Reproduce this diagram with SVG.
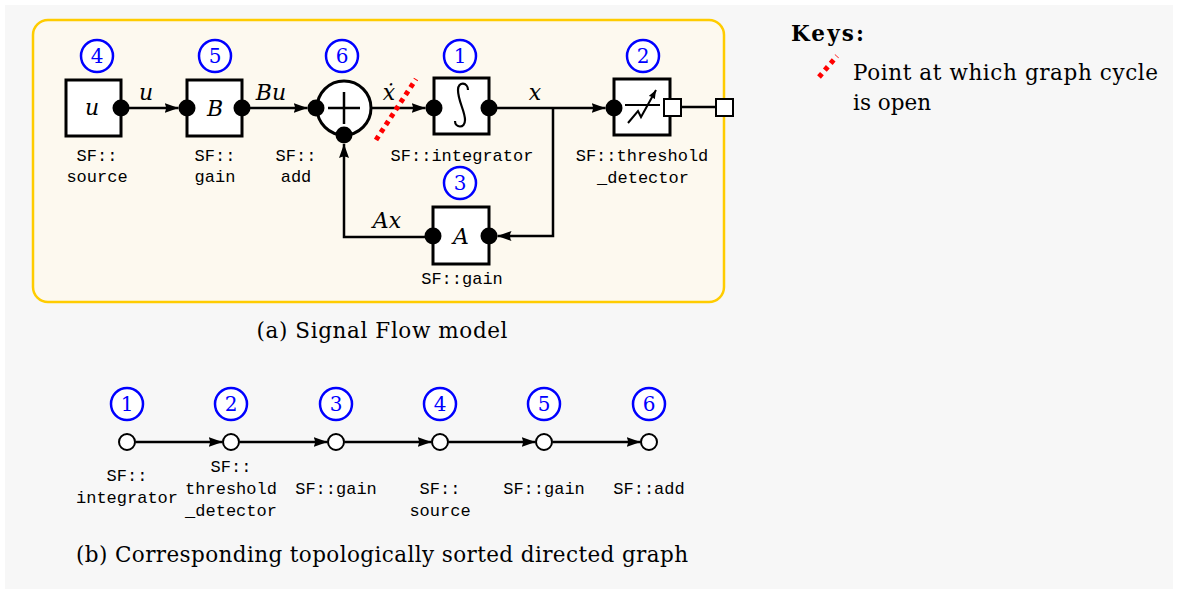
<svg xmlns="http://www.w3.org/2000/svg" width="1178" height="594" viewBox="0 0 1178 594">
<defs>
<marker id="arr" viewBox="0 0 14 10" refX="14" refY="5" markerWidth="14" markerHeight="10" markerUnits="userSpaceOnUse" orient="auto">
<path d="M0,0 L14,5 L0,10 Q3,5 0,0 Z" fill="#000"/>
</marker>
<marker id="arrs" viewBox="0 0 10 8" refX="10" refY="4" markerWidth="9" markerHeight="7" markerUnits="userSpaceOnUse" orient="auto">
<path d="M0,0 L10,4 L0,8 Q2,4 0,0 Z" fill="#000"/>
</marker>
<style>
.box{fill:#fff;stroke:#000;stroke-width:3}
.port{fill:#000}
.conn{fill:none;stroke:#000;stroke-width:2.5}
.arrow{marker-end:url(#arr)}
.num{fill:#fff;stroke:#0000ff;stroke-width:2.5}
.numt{font-family:"DejaVu Serif",serif;font-size:20px;fill:#0000ff;text-anchor:middle}
.tt{font-family:"Liberation Mono","DejaVu Sans Mono",monospace;font-size:17px;fill:#000;text-anchor:middle}
.math{font-family:"DejaVu Serif",serif;font-style:italic;font-size:22px;fill:#000;text-anchor:middle}
.rm{font-family:"DejaVu Serif",serif;font-size:21.5px;fill:#000}
.cut{fill:none;stroke:#ff0000;stroke-width:5;stroke-dasharray:4.5 4.5}
.gnode{fill:#fff;stroke:#000;stroke-width:2}
</style>
</defs>
<rect x="0" y="0" width="1178" height="594" fill="#fff"/>
<rect x="5" y="5" width="1168" height="584" fill="#f7f7f7"/>
<rect x="33" y="20" width="691" height="282" rx="15" fill="#fdf9ef" stroke="#ffcc00" stroke-width="2.5"/>

<g id="connectors">
<line class="conn arrow" x1="121" y1="108" x2="178.5" y2="108"/>
<line class="conn arrow" x1="242" y1="108" x2="307.5" y2="108"/>
<line class="conn arrow" x1="371" y1="108" x2="425.5" y2="108"/>
<line class="conn arrow" x1="489" y1="108" x2="605.5" y2="108"/>
<polyline class="conn arrow" points="553,108 553,236 497.5,236"/>
<polyline class="conn arrow" points="433,237 344,237 344,144"/>
<line class="conn" x1="681" y1="107" x2="716" y2="107"/>
<line class="conn arrow" x1="135.5" y1="442" x2="222.5" y2="442"/>
<line class="conn arrow" x1="239.5" y1="442" x2="327.5" y2="442"/>
<line class="conn arrow" x1="344.5" y1="442" x2="431.5" y2="442"/>
<line class="conn arrow" x1="448.5" y1="442" x2="535.5" y2="442"/>
<line class="conn arrow" x1="552.5" y1="442" x2="640.5" y2="442"/>
<text class="math" x="146" y="100">u</text>
<text class="math" x="271" y="100">Bu</text>
<text class="math" x="389" y="100">ẋ</text>
<text class="math" x="535" y="100">x</text>
<text class="math" x="387" y="228">Ax</text>
</g>

<g id="node4">
<circle class="num" cx="97" cy="56" r="16"/>
<text class="numt" x="97" y="63">4</text>
<rect class="box" x="66" y="80" width="55" height="56"/>
<text class="math" x="92" y="115">u</text>
<circle class="port" cx="121" cy="108" r="8.5"/>
<text class="tt" x="97" y="161">SF::</text>
<text class="tt" x="97" y="182">source</text>
</g>

<g id="node5">
<circle class="num" cx="215" cy="56" r="16"/>
<text class="numt" x="215" y="63">5</text>
<rect class="box" x="187" y="80" width="55" height="56"/>
<text class="math" x="215" y="116">B</text>
<circle class="port" cx="187" cy="108" r="8.5"/>
<circle class="port" cx="242" cy="108" r="8.5"/>
<text class="tt" x="215" y="161">SF::</text>
<text class="tt" x="215" y="182">gain</text>
</g>

<g id="node6">
<circle class="num" cx="342" cy="56" r="16"/>
<text class="numt" x="342" y="63">6</text>
<circle cx="344" cy="108" r="27" fill="#fff" stroke="#000" stroke-width="3"/>
<line x1="328" y1="108" x2="360" y2="108" stroke="#000" stroke-width="2.5"/>
<line x1="344" y1="92" x2="344" y2="124" stroke="#000" stroke-width="2.5"/>
<circle class="port" cx="316" cy="108" r="8.5"/>
<circle class="port" cx="344" cy="135" r="8.5"/>
<text class="tt" x="296" y="161">SF::</text>
<text class="tt" x="296" y="182">add</text>
</g>

<g id="node1">
<circle class="num" cx="460" cy="56" r="16"/>
<text class="numt" x="460" y="63">1</text>
<rect class="box" x="434" y="78" width="55" height="56"/>
<path d="M468,90 C468,82 458,81 458,90 C458,101 465,111 465,120 C465,129 455,128 455,121" fill="none" stroke="#000" stroke-width="2.2"/>
<circle class="port" cx="434" cy="108" r="8.5"/>
<circle class="port" cx="489" cy="108" r="8.5"/>
<text class="tt" x="462" y="161">SF::integrator</text>
</g>

<g id="node3">
<circle class="num" cx="460" cy="183" r="16"/>
<text class="numt" x="460" y="190">3</text>
<rect class="box" x="433" y="207" width="56" height="57"/>
<text class="math" x="461" y="244">A</text>
<circle class="port" cx="433" cy="236" r="8.5"/>
<circle class="port" cx="489" cy="236" r="8.5"/>
<text class="tt" x="462" y="284">SF::gain</text>
</g>

<g id="node2">
<circle class="num" cx="643" cy="56" r="16"/>
<text class="numt" x="643" y="63">2</text>
<rect class="box" x="614" y="79" width="56" height="56"/>
<line x1="625" y1="105" x2="660" y2="105" stroke="#000" stroke-width="2"/>
<polyline points="628,123 638,111 641,117 656,90" fill="none" stroke="#000" stroke-width="2" marker-end="url(#arrs)"/>
<circle class="port" cx="614" cy="108" r="8.5"/>
<rect x="664" y="99" width="17" height="17" fill="#fff" stroke="#000" stroke-width="2"/>
<text class="tt" x="642" y="161">SF::threshold</text>
<text class="tt" x="643" y="183">_detector</text>
</g>

<g id="output">
<rect x="716" y="99" width="17" height="17" fill="#fff" stroke="#000" stroke-width="2"/>
</g>

<g id="cut">
<line class="cut" x1="376" y1="140" x2="416" y2="79"/>
</g>

<text class="rm" x="382" y="338" text-anchor="middle" textLength="251">(a) Signal Flow model</text>

<g id="keys">
<text class="rm" x="791" y="41" font-weight="bold" textLength="73">Keys:</text>
<line class="cut" x1="819" y1="77" x2="837" y2="56"/>
<text class="rm" x="853" y="80" textLength="305">Point at which graph cycle</text>
<text class="rm" x="853" y="110">is open</text>
</g>

<g id="g1">
<circle class="num" cx="127" cy="404" r="16"/>
<text class="numt" x="127" y="411">1</text>
<circle class="gnode" cx="127" cy="442" r="8"/>
<text class="tt" x="127" y="481">SF::</text>
<text class="tt" x="127" y="503">integrator</text>
</g>
<g id="g2">
<circle class="num" cx="231" cy="404" r="16"/>
<text class="numt" x="231" y="411">2</text>
<circle class="gnode" cx="231" cy="442" r="8"/>
<text class="tt" x="231" y="472">SF::</text>
<text class="tt" x="231" y="494">threshold</text>
<text class="tt" x="231" y="516">_detector</text>
</g>
<g id="g3">
<circle class="num" cx="336" cy="404" r="16"/>
<text class="numt" x="336" y="411">3</text>
<circle class="gnode" cx="336" cy="442" r="8"/>
<text class="tt" x="336" y="494">SF::gain</text>
</g>
<g id="g4">
<circle class="num" cx="440" cy="404" r="16"/>
<text class="numt" x="440" y="411">4</text>
<circle class="gnode" cx="440" cy="442" r="8"/>
<text class="tt" x="440" y="494">SF::</text>
<text class="tt" x="440" y="516">source</text>
</g>
<g id="g5">
<circle class="num" cx="544" cy="404" r="16"/>
<text class="numt" x="544" y="411">5</text>
<circle class="gnode" cx="544" cy="442" r="8"/>
<text class="tt" x="544" y="494">SF::gain</text>
</g>
<g id="g6">
<circle class="num" cx="649" cy="404" r="16"/>
<text class="numt" x="649" y="411">6</text>
<circle class="gnode" cx="649" cy="442" r="8"/>
<text class="tt" x="649" y="494">SF::add</text>
</g>

<text class="rm" x="382" y="562" text-anchor="middle" textLength="612">(b) Corresponding topologically sorted directed graph</text>
</svg>
